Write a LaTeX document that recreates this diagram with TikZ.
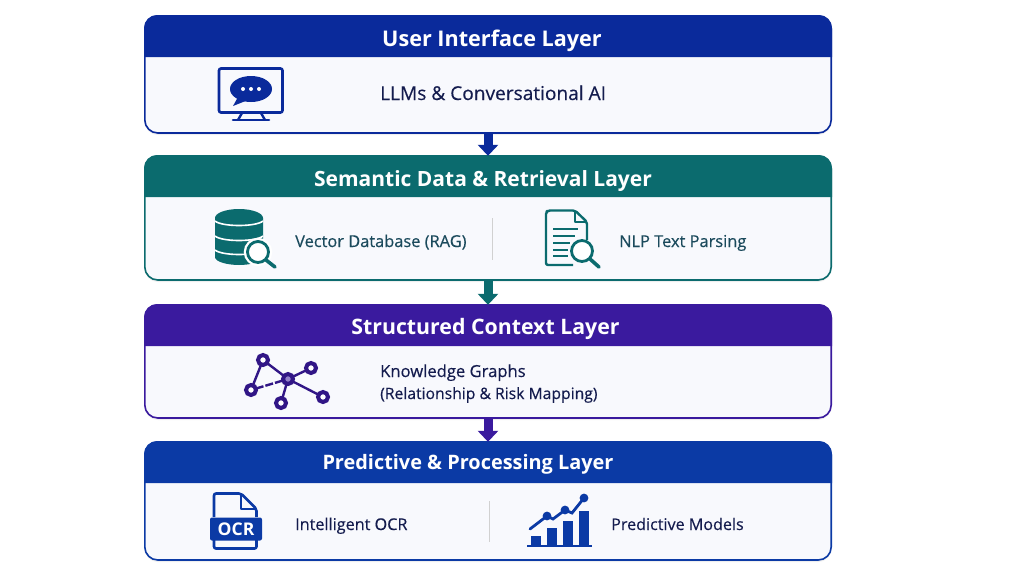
\documentclass[tikz,border=0pt]{standalone}
\usepackage{fontspec}
\setmainfont{Open Sans}
\newfontfamily\itemfont[FakeBold=0.35]{Open Sans}
\usetikzlibrary{arrows.meta,shadows}

\definecolor{uiblue}{HTML}{0A2A9B}
\definecolor{semteal}{HTML}{0B6B6E}
\definecolor{ctxpurple}{HTML}{3A1A9E}
\definecolor{prdblue}{HTML}{0B3AA5}
\definecolor{bodyfill}{HTML}{F8F9FD}
\definecolor{inktext}{HTML}{141C4E}
\definecolor{tealtext}{HTML}{1B4A5C}

\tikzset{
	panel/.style={draw, line width=1.6pt, fill=bodyfill, rounded corners=13pt, minimum width=686.4, outer sep=0pt, inner sep=0pt,
		drop shadow={opacity=.12, shadow xshift=0pt, shadow yshift=-2pt}},
	layertitle/.style={anchor=base, text=white, inner sep=0pt},
	itemtext/.style={anchor=base west, inner sep=0pt},
	flow/.style={line width=9pt, -{Triangle[width=20pt,length=11pt]}},
	divider/.style={draw=black!18, line width=0.8pt},
	lensring/.style={fill=white, line width=2.8pt},
	lenshandle/.style={line width=3.6pt, line cap=round},
	graphdot/.style={circle, draw=ctxpurple!85!black, line width=4pt, fill=white, minimum size=10, inner sep=0pt, outer sep=0pt},
	graphline/.style={draw=ctxpurple!85!black, line width=2.4pt}
}

\newcommand{\layerbox}[4]{
	\node[panel, draw=#2, minimum height=#4-#3] (#1) at (488,{(#3+#4)/2}) {};
	\fill[#2] (#1.north west) ++(-0.8,41.2) -- ++(0,-28.2) [rounded corners=13pt] -- ++(0,-13.8) -- ++(688,0) [sharp corners] -- ++(0,13.8) -- ++(0,28.2) -- cycle;
}
\newcommand{\itemsize}[1]{\fontsize{#1}{24}\itemfont\selectfont}
\newcommand{\titlesize}[1]{\fontsize{#1}{25}\selectfont\bfseries}

\begin{document}
\begin{tikzpicture}[x=1pt,y=-1pt]
	\useasboundingbox (0,0) rectangle (1024,576);
	\fill[white] (0,0) rectangle (1024,576);

	\layerbox{ui}{uiblue}{15.8}{133}
	\layerbox{sem}{semteal}{155.8}{280}
	\layerbox{ctx}{ctxpurple}{304.8}{418}
	\layerbox{prd}{prdblue}{441.8}{560}

	\node[layertitle, font=\titlesize{21.6}] (uititle) at (492,46) {User Interface Layer};
	\node[layertitle, font=\titlesize{21}] (semtitle) at (483,186) {Semantic Data \& Retrieval Layer};
	\node[layertitle, font=\titlesize{21.3}] (ctxtitle) at (485.5,334) {Structured Context Layer};
	\node[layertitle, font=\titlesize{19.9}] (prdtitle) at (468,469) {Predictive \& Processing Layer};

	\draw[flow, uiblue] (ui.south) -- (sem.north);
	\draw[flow, semteal] (sem.south) -- (ctx.north);
	\draw[flow, ctxpurple] (ctx.south) -- (prd.north);

	% texts
	\node[itemtext, text=inktext, font=\itemsize{19.1}] (llm) at (380,100) {LLMs \& Conversational AI};
	\node[itemtext, text=tealtext, font=\itemsize{16.4}] (vec) at (295,247) {Vector Database (RAG)};
	\node[itemtext, text=tealtext, font=\itemsize{16.4}] (nlp) at (619,247) {NLP Text Parsing};
	\node[itemtext, text=inktext, font=\itemsize{16.6}] (kg) at (380,377) {Knowledge Graphs};
	\node[itemtext, text=inktext, font=\itemsize{15.7}] (rel) at (380,399) {(Relationship \& Risk Mapping)};
	\node[itemtext, text=inktext, font=\itemsize{16.2}] (ocr) at (295,530) {Intelligent OCR};
	\node[itemtext, text=inktext, font=\itemsize{16.1}] (pred) at (611,530) {Predictive Models};

	\draw[divider] (492,218) -- (492,260);
	\draw[divider] (489,501) -- (489,542);

	% monitor icon
	\draw[uiblue, line width=2.6pt, rounded corners=2pt] (219,68.5) rectangle (282.5,112.5);
	\draw[uiblue, line width=2.4pt] (242,113) -- (238,120) (261,113) -- (265,120);
	\draw[uiblue, line width=2.6pt, line cap=round] (233,120) -- (269,120);
	\fill[uiblue] (251,89) ellipse (21 and 13);
	\fill[uiblue] (238,97) -- (233,106) -- (248,100) -- cycle;
	\foreach \dotx in {243,251,259}
		\fill[white] (\dotx,89) circle (2);

	% database icon
	\fill[semteal] (215,218) -- (263,218) -- (263,257) .. controls (263,262) and (250,265) .. (239,265) .. controls (228,265) and (215,262) .. (215,257) -- cycle;
	\fill[semteal] (239,218) ellipse (24 and 9);
	\draw[white, line width=1.6pt] (215,221) .. controls (222,227) and (256,227) .. (263,221);
	\draw[white, line width=1.6pt] (215,236) .. controls (222,242) and (256,242) .. (263,236);
	\draw[white, line width=1.6pt] (215,250) .. controls (222,256) and (256,256) .. (263,250);
	\draw[white, line width=2.5pt] (258,252) circle (13);
	\draw[semteal, lensring] (258,252) circle (10.5);
	\draw[semteal, lenshandle] (266,260) -- (275,267);

	% document icon
	\draw[semteal, line width=2.4pt, line join=round, rounded corners=2pt] (587,240) -- (587,222) -- (575,210.5) -- (548,210.5) -- (546,212) -- (546,265) -- (573,265);
	\draw[semteal, line width=2.4pt, line join=round] (575,210.5) -- (575,222) -- (587,222);
	\foreach \liney/\linex in {229/578,236/575,243/570,250/568,256/568}
		\draw[semteal, line width=2pt] (553,\liney) -- (\linex,\liney);
	\draw[semteal, lensring] (582,251) circle (10.5);
	\draw[semteal, lenshandle] (590,259) -- (599,267);

	% graph icon
	\node[graphdot] (gtop) at (263,360) {};
	\node[graphdot] (gup) at (311,368) {};
	\node[graphdot, fill=ctxpurple!55!white] (gmid) at (288,379) {};
	\node[graphdot] (gleft) at (251,390) {};
	\node[graphdot] (gbot) at (281,403) {};
	\node[graphdot] (gdown) at (323,397) {};
	\draw[graphline] (gtop) -- (gmid);
	\draw[graphline] (gmid) -- (gup);
	\draw[graphline] (gmid) -- (gdown);
	\draw[graphline] (gmid) -- (gbot);
	\draw[graphline] (gtop) -- (gleft);
	\draw[graphline, dash pattern=on 8pt off 2pt] (gleft) -- (gmid);

	% ocr icon
	\draw[prdblue, line width=2.6pt, line join=round, rounded corners=2pt] (214,517) -- (214,493.5) -- (241,493.5) -- (256.5,509) -- (256.5,517);
	\draw[prdblue, line width=2.6pt, line join=round] (241,493.5) -- (241,509) -- (256.5,509);
	\draw[prdblue, line width=2.6pt, rounded corners=2pt] (214,540) -- (214,548.5) -- (256.5,548.5) -- (256.5,540);
	\node[fill=prdblue, rounded corners=2pt, minimum width=52, minimum height=23, inner sep=0pt, text=white, font=\fontsize{17.5}{20}\selectfont\bfseries] (ocrtag) at (236,529) {OCR};

	% chart icon
	\foreach \barx/\bartop in {531/536,547/528,563/521,579/511}
		\fill[prdblue] (\barx,\bartop) rectangle (\barx+10,546);
	\draw[prdblue, line width=2.6pt] (527,546) -- (592,546);
	\draw[prdblue, line width=2.8pt, line cap=round] (530,529) -- (547,516) -- (553,519) -- (565,510) -- (572,513) -- (584,498);
	\foreach \dotx/\doty in {547/516,565/510,584/498}
		\fill[prdblue] (\dotx,\doty) circle (4.4);
\end{tikzpicture}
\end{document}
